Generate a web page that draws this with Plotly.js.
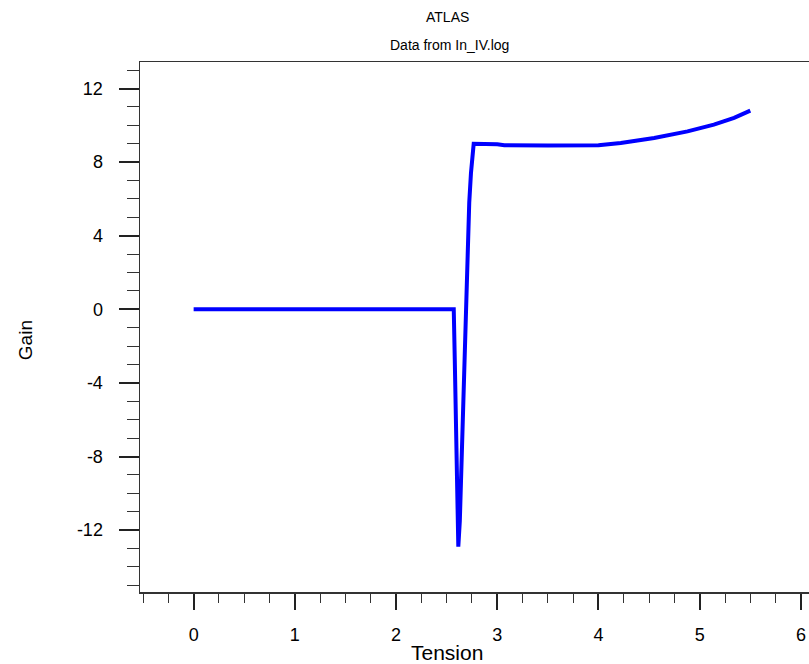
<!DOCTYPE html>
<html>
<head>
<meta charset="utf-8">
<script src="https://cdn.plot.ly/plotly-3.0.1.min.js"></script>
<style>html,body{margin:0;padding:0;overflow:hidden;background:#fff}</style>
</head>
<body>
<div id="chart" style="width:809px;height:664px"></div>
<script>
const tension = [0, 2.57, 2.58, 2.59, 2.60, 2.61, 2.615, 2.630, 2.644, 2.661, 2.674, 2.686, 2.697, 2.710, 2.723, 2.740, 2.753, 2.767, 3.0, 3.07, 3.5, 4.0, 4.22, 4.55, 4.88, 5.14, 5.34, 5.5];
const gain = [0, 0, -2.7, -5.2, -7.8, -10.4, -12.9, -11.5, -8.8, -6.3, -4.3, -1.5, 1.2, 3.5, 5.8, 7.4, 8.5, 9.0, 8.97, 8.92, 8.9, 8.92, 9.04, 9.31, 9.67, 10.04, 10.4, 10.8];
const xTicks = [0, 1, 2, 3, 4, 5, 6];
const yTicks = [-12, -8, -4, 0, 4, 8, 12];
const titleText = "ATLAS";
const subtitleText = "Data from In_IV.log";
const xTitle = "Tension";
const yTitle = "Gain";

const font = "Liberation Sans, Arial, sans-serif";
const trace = {
  x: tension, y: gain, type: "scatter", mode: "lines",
  line: {color: "#0000ff", width: 4}, hoverinfo: "skip"
};
const layout = {
  width: 809, height: 664,
  margin: {l: 140, r: 0, t: 62, b: 72, pad: 0},
  paper_bgcolor: "#fff", plot_bgcolor: "#fff",
  showlegend: false,
  font: {family: font, color: "#000"},
  xaxis: {
    range: [-0.53, 6.08], tickvals: xTicks, ticktext: xTicks.map(String),
    showgrid: false, zeroline: false, showline: true, mirror: true,
    linecolor: "#333", linewidth: 1.5,
    ticks: "outside", ticklen: 16, tickwidth: 2, tickcolor: "#222",
    ticklabelstandoff: 10,
    tickfont: {size: 18, family: font, color: "#000"},
    minor: {dtick: 0.25, tick0: 0, ticks: "outside", ticklen: 9, tickwidth: 1, tickcolor: "#333", showgrid: false}
  },
  yaxis: {
    range: [-15.36, 13.44], tickvals: yTicks, ticktext: yTicks.map(String),
    showgrid: false, zeroline: false, showline: true, mirror: false,
    linecolor: "#333", linewidth: 1.5,
    ticks: "outside", ticklen: 20, tickwidth: 2, tickcolor: "#222",
    ticklabelstandoff: 12,
    tickfont: {size: 18, family: font, color: "#000"},
    minor: {dtick: 1, tick0: 0, ticks: "outside", ticklen: 12, tickwidth: 1, tickcolor: "#333", showgrid: false}
  },
  annotations: [
    {text: titleText, xref: "paper", yref: "paper", x: 0.459, y: 1.085, xanchor: "center", yanchor: "middle", showarrow: false, font: {size: 14, family: font, color: "#000"}},
    {text: subtitleText, xref: "paper", yref: "paper", x: 0.462, y: 1.032, xanchor: "center", yanchor: "middle", showarrow: false, font: {size: 14, family: font, color: "#000"}},
    {text: xTitle, xref: "paper", yref: "paper", x: 0.459, y: -0.115, xanchor: "center", yanchor: "middle", showarrow: false, font: {size: 21, family: font, color: "#000"}},
    {text: yTitle, xref: "paper", yref: "paper", x: -0.172, y: 0.475, xanchor: "center", yanchor: "middle", textangle: -90, showarrow: false, font: {size: 19, family: font, color: "#000"}}
  ]
};
Plotly.newPlot("chart", [trace], layout, {displayModeBar: false, staticPlot: true});
</script>
</body>
</html>
